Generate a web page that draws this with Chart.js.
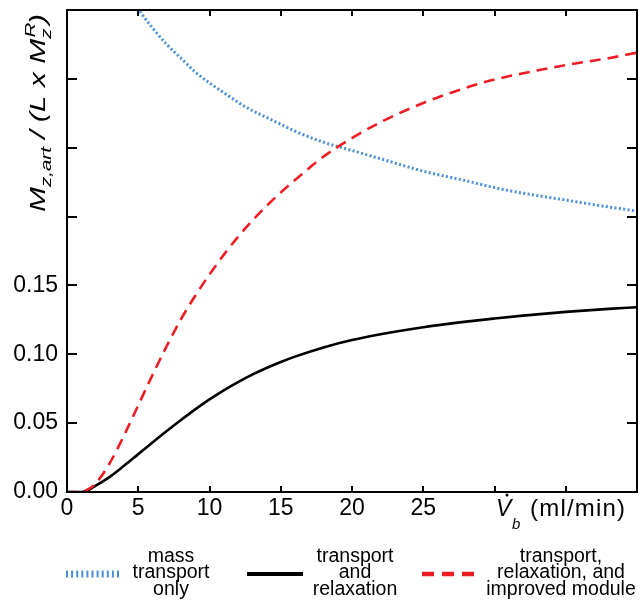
<!DOCTYPE html>
<html>
<head>
<meta charset="utf-8">
<script src="https://cdn.jsdelivr.net/npm/chart.js@4/dist/chart.umd.min.js"></script>
<style>
html,body{margin:0;padding:0;background:#fff;}
#wrap{width:639px;height:603px;}
</style>
</head>
<body>
<div id="wrap"><canvas id="c" width="639" height="603"></canvas></div>
<script>
// ---- data ----
const vb = [0,1,1.5,2,3,4,5,6,7,8,9,10,11,12,13,14,15,16,18,20,22,25,28,30,32,35,38,40];
const transportRelax = [0,0,0.0015,0.0045,0.011,0.019,0.0275,0.036,0.0443,0.0523,0.060,0.0672,0.0738,0.0798,0.0852,0.090,0.0944,0.0983,0.105,0.1103,0.1145,0.1196,0.1237,0.126,0.1281,0.1308,0.133,0.1342];
const improvedModule = [0,0,0.002,0.006,0.021,0.041,0.063,0.085,0.106,0.1255,0.1425,0.158,0.1722,0.1852,0.197,0.2077,0.2175,0.2265,0.2435,0.257,0.2685,0.2825,0.2935,0.2995,0.304,0.310,0.315,0.319];
const vbMass = [5.1,6,7,8,9,10,11,12,13,14,15,16,18,20,22,25,28,30,32,35,38,40];
const massTransport = [0.349,0.337,0.325,0.315,0.305,0.297,0.290,0.283,0.277,0.272,0.267,0.262,0.254,0.248,0.242,0.233,0.226,0.221,0.217,0.212,0.207,0.204];
const xTickLabelsMax = 25;     // x tick labels shown up to 25
const yTickLabelsMax = 0.15;   // y tick labels shown up to 0.15
const legendLabels = [
  ["mass","transport","only"],
  ["transport","and","relaxation"],
  ["transport,","relaxation, and","improved module"]
];

const FONT = '"Liberation Sans", Arial, Helvetica, sans-serif';
const BLUE = '#4a8fd6', RED = '#ee1c25', BLACK = '#000000';

function pts(xs, ys){ return xs.map((x,i)=>({x:x,y:ys[i]})); }

const datasets = [
  {label:'transport, relaxation, and improved module', data:pts(vb,improvedModule), borderColor:RED, borderWidth:2.6, borderDash:[11,7], order:0},
  {label:'transport and relaxation', data:pts(vb,transportRelax), borderColor:BLACK, borderWidth:2.6, order:1},
  {label:'mass transport only', data:pts(vbMass,massTransport), borderColor:BLUE, borderWidth:3, borderDash:[2,2.4], order:2}
];
datasets.forEach(d=>{ d.pointRadius=0; d.fill=false; d.cubicInterpolationMode='monotone'; });

const framePlugin = {
  id:'frame',
  afterDraw(chart){
    const ctx = chart.ctx, a = chart.chartArea;
    const xs = chart.scales.x, ys = chart.scales.y;
    ctx.save();
    ctx.strokeStyle = '#000';
    ctx.lineWidth = 2;
    ctx.setLineDash([]);
    ctx.strokeRect(a.left, a.top, a.right-a.left, a.bottom-a.top);
    ctx.beginPath();
    xs.ticks.forEach(t=>{
      if (t.value<=xs.min || t.value>=xs.max) return;
      const p = Math.round(xs.getPixelForValue(t.value));
      ctx.moveTo(p, a.bottom); ctx.lineTo(p, a.bottom-6);
      ctx.moveTo(p, a.top); ctx.lineTo(p, a.top+6);
    });
    ys.ticks.forEach(t=>{
      if (t.value<=ys.min+1e-9 || t.value>=ys.max-1e-9) return;
      const p = Math.round(ys.getPixelForValue(t.value));
      ctx.moveTo(a.left, p); ctx.lineTo(a.left+10, p);
      ctx.moveTo(a.right, p); ctx.lineTo(a.right-10, p);
    });
    ctx.stroke();

    // y-axis title: M_{z,art} / (L x M_z^R)
    const main = 'italic 22px '+FONT, sub = 'italic 15px '+FONT;
    const segs = [
      {t:'M', f:main, dy:0},
      {t:'z,art', f:sub, dy:6},
      {t:' / (L x M', f:main, dy:0},
      {t:'z', f:sub, dy:6, stackWith:{t:'R', f:sub, dy:-10}},
      {t:')', f:main, dy:0}
    ];
    let W = 0;
    segs.forEach(s=>{
      ctx.font = s.f; let w = ctx.measureText(s.t).width;
      if (s.stackWith){ ctx.font = s.stackWith.f; w = Math.max(w, ctx.measureText(s.stackWith.t).width); }
      s.w = w; W += w;
    });
    const target = 198;
    ctx.save();
    ctx.translate(45, 113);
    ctx.rotate(-Math.PI/2);
    ctx.scale(target/W, 1);
    ctx.fillStyle = '#000';
    ctx.textBaseline = 'alphabetic';
    ctx.textAlign = 'left';
    let x = -W/2;
    segs.forEach(s=>{
      ctx.font = s.f; ctx.fillText(s.t, x, s.dy);
      if (s.stackWith){ ctx.font = s.stackWith.f; ctx.fillText(s.stackWith.t, x+1, s.stackWith.dy); }
      x += s.w;
    });
    ctx.restore();

    // x-axis title: V̇_b (ml/min)
    ctx.save();
    ctx.fillStyle = '#000';
    ctx.textBaseline = 'alphabetic';
    ctx.textAlign = 'left';
    ctx.font = 'italic 23px '+FONT;
    ctx.fillText('V', 496, 516);
    ctx.beginPath(); ctx.arc(507, 495, 1.5, 0, Math.PI*2); ctx.fill();
    ctx.font = 'italic 15px '+FONT;
    ctx.fillText('b', 512, 529);
    ctx.font = '24px '+FONT;
    ctx.letterSpacing = '1.2px';
    ctx.fillText('(ml/min)', 530, 516);
    ctx.restore();

    // legend
    const ds = chart.data.datasets;
    const items = [
      {d:ds[2], x0:66, x1:122, lw:7, dash:[2,3.1], cx:171, lines:legendLabels[0]},
      {d:ds[1], x0:247, x1:303, lw:4, dash:[], cx:355, lines:legendLabels[1]},
      {d:ds[0], x0:422, x1:475, lw:4.5, dash:[12,8], cx:561, lines:legendLabels[2]}
    ];
    items.forEach(it=>{
      ctx.save();
      ctx.strokeStyle = it.d.borderColor;
      ctx.lineWidth = it.lw;
      ctx.setLineDash(it.dash);
      ctx.beginPath(); ctx.moveTo(it.x0, 574); ctx.lineTo(it.x1, 574); ctx.stroke();
      ctx.restore();
      ctx.save();
      ctx.fillStyle = '#000';
      ctx.font = '19.5px '+FONT;
      ctx.textAlign = 'center';
      ctx.textBaseline = 'alphabetic';
      it.lines.forEach((l,i)=> ctx.fillText(l, it.cx, 562 + i*16.3));
      ctx.restore();
    });
    ctx.restore();
  }
};

new Chart(document.getElementById('c'), {
  type:'line',
  data:{datasets:datasets},
  options:{
    responsive:false,
    animation:false,
    events:[],
    layout:{padding:{left:0, right:2, top:10, bottom:0}},
    plugins:{legend:{display:false}, tooltip:{enabled:false}, title:{display:false}},
    scales:{
      x:{
        type:'linear', min:0, max:40,
        grid:{display:false, drawTicks:false},
        border:{display:false},
        ticks:{stepSize:5, padding:3, color:'#000', font:{family:FONT, size:23}, maxRotation:0,
          callback:(v)=> v<=xTickLabelsMax ? String(v) : ''},
        afterFit:(s)=>{ s.height = 111; s.paddingLeft = 0; s.paddingRight = 0; }
      },
      y:{
        type:'linear', min:0, max:0.35,
        grid:{display:false, drawTicks:false},
        border:{display:false},
        ticks:{stepSize:0.05, padding:9, color:'#000', font:{family:FONT, size:23},
          callback:(v)=> v<=yTickLabelsMax+1e-9 ? v.toFixed(2) : ''},
        afterFit:(s)=>{ s.width = 67; s.paddingTop = 0; s.paddingBottom = 0; }
      }
    }
  },
  plugins:[framePlugin]
});
</script>
</body>
</html>
